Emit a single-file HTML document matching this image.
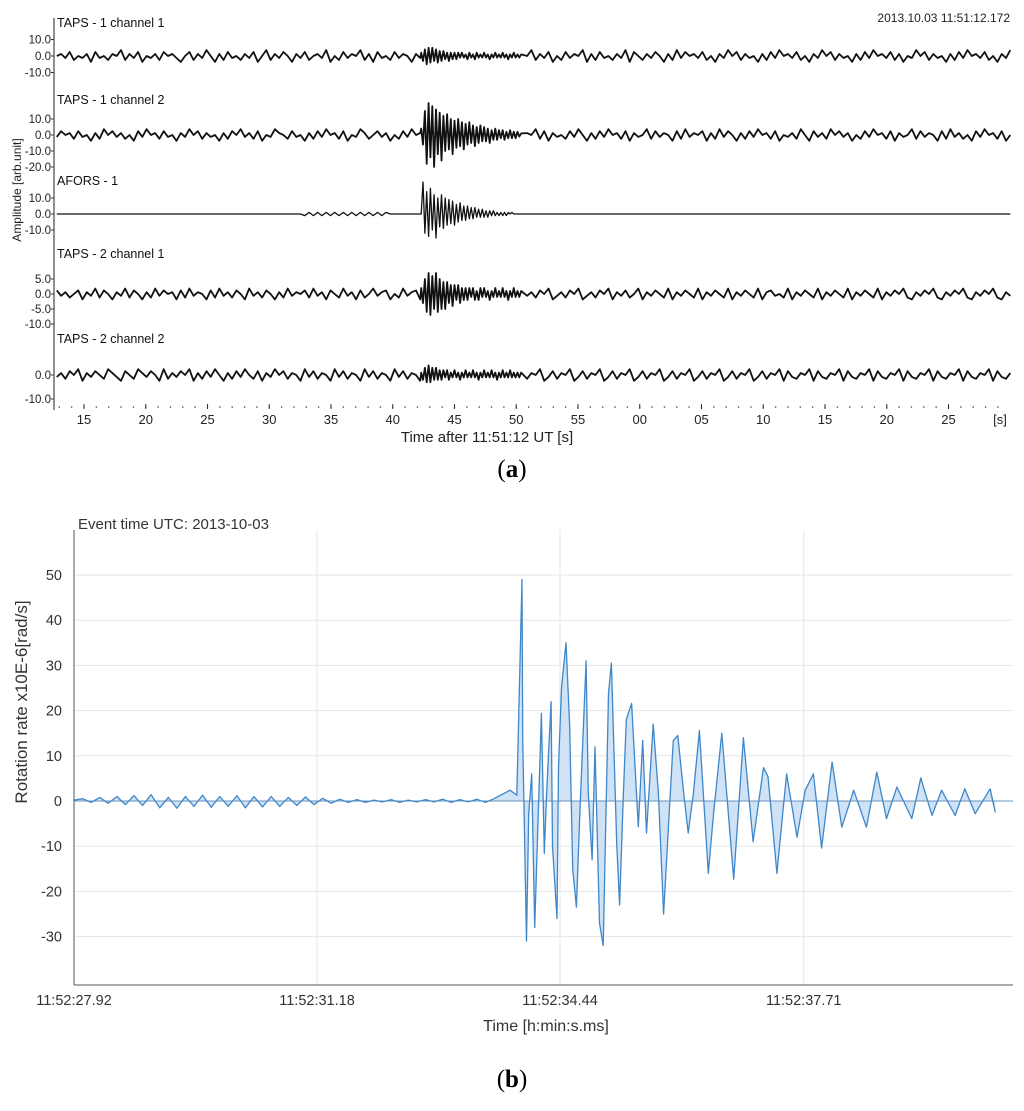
<!DOCTYPE html>
<html><head><meta charset="utf-8"><style>
body{margin:0;background:#fff;}
svg{display:block;font-family:"Liberation Sans",sans-serif;}
</style></head><body>
<svg id="fig" width="1024" height="1111" viewBox="0 0 1024 1111" xmlns="http://www.w3.org/2000/svg">
<g id="topPanel"></g>
<g id="botPanel"></g>
<text x="512" y="477" text-anchor="middle" font-family="Liberation Serif,serif" font-size="25">(<tspan font-weight="bold">a</tspan>)</text>
<text x="512" y="1087" text-anchor="middle" font-family="Liberation Serif,serif" font-size="25">(<tspan font-weight="bold">b</tspan>)</text>
</svg>
<script>
const NS="http://www.w3.org/2000/svg";
// ---------- Panel (a) data ----------
const aTickLabels=["15","20","25","30","35","40","45","50","55","00","05","10","15","20","25"];
const aTickSeconds=[15,20,25,30,35,40,45,50,55,60,65,70,75,80,85];
const traceNames=["TAPS - 1 channel 1","TAPS - 1 channel 2","AFORS - 1","TAPS - 2 channel 1","TAPS - 2 channel 2"];
const noiseStart=12.8, noiseEnd=90;
// noise samples: each digit d encodes value (d-4)
const noise1="45362435163425472536143526453146253741526342536147253641"+"53624537142635472516342635415362473526142537463524153647"+"25361426354715263425371642536415273645362415374625341526"+"37453624153746253415263745362514374625341526374536241537";
const noise2="36452634152746352416374526341537462534152647352614375426"+"34152637452614375246351426374526153462734152637451426354"+"72615342637415263745261534726354162735461527364152637452"+"61435274163527463514263745261534726354162735241637452614";
const noise3="44444444444444444444444444444444444444444444444444444444"+"44353535353535353535354444444444444444444444444444444444"+"44444444444444444444444444444444444444444444444444444444"+"44444444444444444444444444444444444444444444444444444444";
const noise4="63524615372641537264152736451627354162735264173526415273"+"54627351642735162473561427356142735264173526417352641735"+"26471352647135264715362471536427153642715364271536427156"+"34271536427153642715364271536472153647215364721536472153";
const noise5="35264715364275316427536417253647152637415263742615374625"+"41736254173625417362541736254173625471362547136254713625"+"47136254713625471362547136254713625471362547136254713625"+"47163254716325471632547163254716325471632547163254716325";
const burstStart=42.3, burstStep=0.15;
const burst1=[2,-3,4,-5,5,-4,5,-3,4,-4,3,-3,3,-2,2,-3,2,-2,2,-2,2,-1,2,-1,1,-2,2,-1,1,-2,2,-1,1,-1,2,-1,1,-2,1,-1,2,-1,1,-1,2,-1,1,-2,1,-1,2,-1,1,-1,1];
const burst2=[4,-6,15,-18,20,-14,18,-20,16,-12,14,-16,12,-10,13,-9,10,-12,9,-8,10,-7,8,-9,7,-6,8,-5,6,-7,5,-5,6,-4,5,-4,4,-5,3,-3,4,-3,3,-2,3,-3,2,-2,3,-2,2,-2,2,-1,1];
const burst3=[0,20,-12,14,-14,16,-10,12,-15,10,-8,12,-9,10,-7,9,-6,8,-7,6,-5,7,-4,5,-4,5,-3,4,-3,4,-2,3,-2,3,-2,2,-2,2,-1,2,-1,1,-1,1,-1,1,-1,1,0,1,0,0,0,0,0];
const burst4=[2,-3,5,-6,7,-7,6,-5,7,-6,5,-5,4,-5,4,-3,3,-4,3,-2,3,-3,2,-2,2,-2,2,-1,2,-2,1,-2,2,-1,2,-1,1,-2,1,-1,2,-1,1,-1,2,-1,1,-2,1,-1,2,-1,1,-1,1];
const burst5=[1,-2,3,-3,4,-3,3,-2,3,-2,2,-2,2,-1,2,-2,1,-1,2,-1,1,-2,1,-1,2,-1,1,-1,2,-1,1,-2,1,-1,2,-1,1,-1,2,-1,1,-2,1,-1,2,-1,1,-1,2,-1,1,-1,1,-1,1];
const traceNoise=[noise1,noise2,noise3,noise4,noise5];
const noiseGain=[1.2,1.2,1.0,0.6,0.8];
const traceBurst=[burst1,burst2,burst3,burst4,burst5];
const traceTicks=[["10.0","0.0","-10.0"],["10.0","0.0","-10.0","-20.0"],["10.0","0.0","-10.0"],["5.0","0.0","-5.0","-10.0"],["0.0","-10.0"]];
const traceTickVals=[[10,0,-10],[10,0,-10,-20],[10,0,-10],[5,0,-5,-10],[0,-10]];
// ---------- Panel (b) data ----------
const bXLabels=["11:52:27.92","11:52:31.18","11:52:34.44","11:52:37.71"];
const bXTicks=[0,3.26,6.52,9.79];
const bYTicks=[50,40,30,20,10,0,-10,-20,-30];
const preStep=0.115;
const preValues=[0.2,0.5,-0.3,0.8,-0.5,1,-0.8,1.2,-1,1.4,-1.5,0.8,-1.6,1,-1.2,1.3,-1.4,1,-1.2,1.2,-1.5,1,-1.3,1,-1.2,0.8,-1,0.9,-0.8,0.6,-0.5,0.4,-0.3,0.3,-0.3,0.2,-0.2,0.3,-0.3,0.2,-0.2,0.3,-0.2,0.4,-0.3,0.3,-0.2,0.4,-0.3,0.5];
const evTimes=[5.85,5.94,6.01,6.02,6.07,6.10,6.14,6.18,6.27,6.31,6.34,6.40,6.42,6.48,6.50,6.54,6.60,6.65,6.69,6.74,6.79,6.87,6.90,6.95,6.99,7.05,7.10,7.17,7.21,7.28,7.32,7.37,7.41,7.48,7.57,7.63,7.68,7.77,7.84,7.91,8.00,8.04,8.10,8.18,8.24,8.31,8.39,8.51,8.58,8.69,8.85,8.98,9.11,9.25,9.31,9.43,9.56,9.70,9.81,9.92,10.03,10.17,10.30,10.46,10.63,10.77,10.90,11.04,11.24,11.36,11.51,11.64,11.82,11.95,12.09,12.29,12.36];
const evValues=[2.4,1.3,49,14,-31,-2.8,6,-28,19.4,-11.6,1.7,22,-10,-26,7.6,25,35,16.4,-15,-23.5,-1.3,31,1.7,-13,12,-27,-32,23.8,30.5,-9.4,-23,1.7,18,21.6,-5.7,13.4,-7.1,17,1.7,-25,1.7,13.4,14.5,1.7,-7.1,1.7,15.6,-16,-2.7,15,-17.3,14,-9,7.4,5.4,-16,6,-8,2.4,6,-10.4,8.6,-5.8,2.4,-5.8,6.4,-3.9,3.1,-3.9,5.1,-3.2,2.4,-3.2,2.7,-2.8,2.7,-2.5];

function el(tag,attrs,parent,txt){const e=document.createElementNS(NS,tag);for(const k in attrs)e.setAttribute(k,attrs[k]);if(txt!=null)e.textContent=txt;parent.appendChild(e);return e;}

// ---------- draw panel a ----------
const topG=document.getElementById('topPanel');
const ax=s=>84+(s-15)*12.35;
const zeroY=[56,135,214,294,375];
const pxPerUnit=[1.65,1.6,1.6,3.0,2.4];
const titleY=[27,104,185,258,343];
let l=el('line',{x1:54,y1:18,x2:54,y2:410,stroke:'#222','stroke-width':1},topG);

for(let s=13;s<=89;s++){const c=el('circle',{cx:ax(s),cy:407,r:0.8,fill:'#444'},topG);}
aTickSeconds.forEach((s,i)=>{const t=el('text',{x:ax(s),y:424,'text-anchor':'middle','font-size':13,fill:'#222'},topG,aTickLabels[i]);
 const tk=el('line',{x1:ax(s),y1:404,x2:ax(s),y2:409,stroke:'#333'},topG);});
let u=el('text',{x:1000,y:424,'text-anchor':'middle','font-size':13,fill:'#222'},topG,'[s]');
let xt=el('text',{x:487,y:442,'text-anchor':'middle','font-size':15,fill:'#222'},topG,'Time after 11:51:12 UT [s]');
let yt=el('text',{x:0,y:0,'text-anchor':'middle','font-size':12,fill:'#222',transform:'translate(21,190) rotate(-90)'},topG,'Amplitude [arb.unit]');
let ts=el('text',{x:1010,y:22,'text-anchor':'end','font-size':12,fill:'#222'},topG,'2013.10.03 11:51:12.172');
traceNames.forEach((nm,i)=>{
 const y0=zeroY[i],k=pxPerUnit[i];
 const tt=el('text',{x:57,y:titleY[i],'font-size':12.5,fill:'#111'},topG,nm);
 traceTicks[i].forEach((lab,j)=>{const yy=y0-traceTickVals[i][j]*k;
  const tl=el('text',{x:51,y:yy+4,'text-anchor':'end','font-size':11.5,fill:'#222'},topG,lab);
  const tk=el('line',{x1:51,y1:yy,x2:54,y2:yy,stroke:'#333'},topG);});
 const pts=[];
 const ns=traceNoise[i];const step=(noiseEnd-noiseStart)/(ns.length-1);
 for(let j=0;j<ns.length;j++){const s=noiseStart+j*step;if(s<burstStart||s>burstStart+burstStep*traceBurst[i].length)pts.push([s,(Number(ns[j])-4)*noiseGain[i]]);}
 traceBurst[i].forEach((v,j)=>pts.push([burstStart+j*burstStep,v]));
 pts.sort((a,b)=>a[0]-b[0]);
 const d=pts.map((p,j)=>(j?'L':'M')+ax(p[0]).toFixed(1)+' '+(y0-p[1]*k).toFixed(1)).join(' ');
 const p=el('path',{d:d,fill:'none',stroke:'#111','stroke-width':i==2?1.3:1.8,'stroke-linejoin':'round'},topG);
 
});

// ---------- draw panel b ----------
const botG=document.getElementById('botPanel');
const bx=t=>74+t*74.54;
const by=v=>801-v*4.52;
bXTicks.forEach((t,i)=>{const g=el('line',{x1:bx(t),y1:530,x2:bx(t),y2:985,stroke:'#e6e6e6'},botG);
 const lab=el('text',{x:bx(t),y:1005,'text-anchor':'middle','font-size':14.5,fill:'#333'},botG,bXLabels[i]);});
bYTicks.forEach(v=>{const g=el('line',{x1:74,y1:by(v),x2:1013,y2:by(v),stroke:'#e6e6e6'},botG);
 const lab=el('text',{x:62,y:by(v)+5,'text-anchor':'end','font-size':14.5,fill:'#333'},botG,String(v));});
const allT=preValues.map((v,j)=>j*preStep).concat(evTimes);
const allV=preValues.concat(evValues);
let d='';allT.forEach((t,j)=>{d+=(j?'L':'M')+bx(t).toFixed(1)+' '+by(allV[j]).toFixed(1)+' ';});
const area=el('path',{d:d+'L'+bx(allT[allT.length-1]).toFixed(1)+' '+by(0)+' L'+bx(allT[0])+' '+by(0)+' Z',fill:'#cfe2f6',stroke:'none'},botG);

const z=el('line',{x1:74,y1:by(0),x2:1013,y2:by(0),stroke:'#6a93bb','stroke-width':1},botG);
const ln=el('path',{d:d,fill:'none',stroke:'#3f87c8','stroke-width':1.3,'stroke-linejoin':'round'},botG);

let a1=el('line',{x1:74,y1:530,x2:74,y2:985,stroke:'#555'},botG);
let a2=el('line',{x1:74,y1:985,x2:1013,y2:985,stroke:'#555'},botG);
let ev=el('text',{x:78,y:529,'font-size':15,fill:'#333'},botG,'Event time UTC: 2013-10-03');
let bt=el('text',{x:546,y:1031,'text-anchor':'middle','font-size':16,fill:'#333'},botG,'Time [h:min:s.ms]');
let byt=el('text',{x:0,y:0,'text-anchor':'middle','font-size':17,fill:'#333',transform:'translate(27,702) rotate(-90)'},botG,'Rotation rate x10E-6[rad/s]');
</script>
</body></html>
